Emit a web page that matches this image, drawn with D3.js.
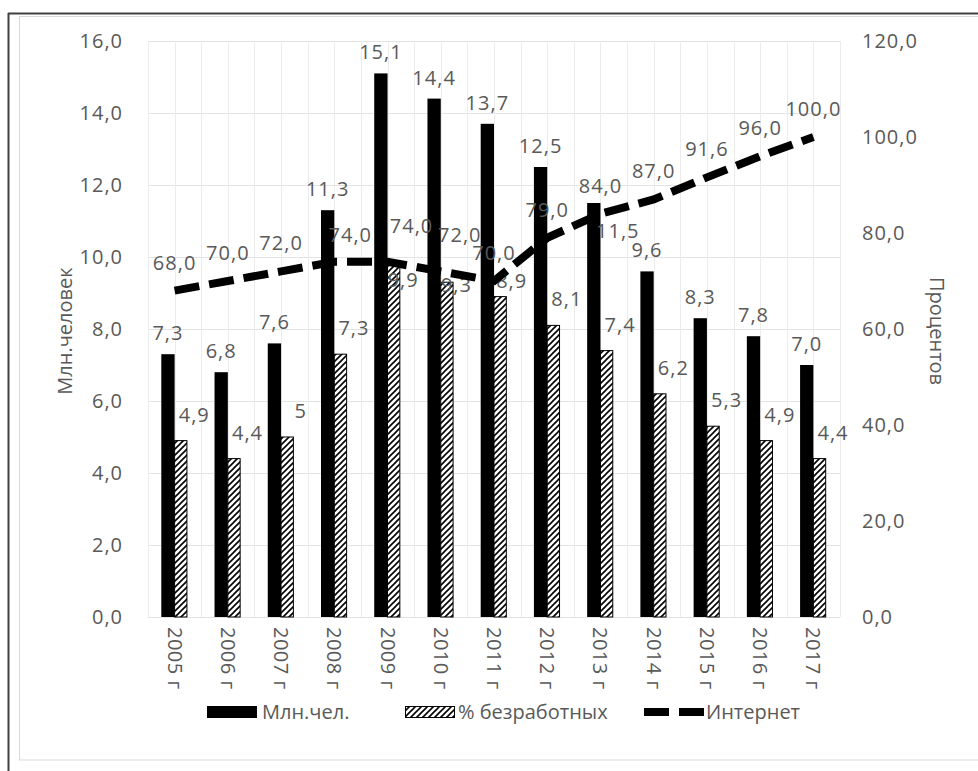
<!DOCTYPE html>
<html>
<head>
<meta charset="utf-8">
<script src="https://cdn.jsdelivr.net/npm/d3@7/dist/d3.min.js"></script>
<style>
  html, body { margin: 0; padding: 0; background: #fff; }
  svg { display: block; }
  text { font-family: "Open Sans", "Noto Sans", sans-serif; fill: #595959; }
</style>
</head>
<body>
<svg id="chart" width="978" height="771"></svg>
<script>
// ---- data ----
const categories = ["2005 г","2006 г","2007 г","2008 г","2009 г","2010 г","2011 г","2012 г","2013 г","2014 г","2015 г","2016 г","2017 г"];
const millions = [7.3, 6.8, 7.6, 11.3, 15.1, 14.4, 13.7, 12.5, 11.5, 9.6, 8.3, 7.8, 7.0];
const unemployedPct = [4.9, 4.4, 5, 7.3, 9.9, 9.3, 8.9, 8.1, 7.4, 6.2, 5.3, 4.9, 4.4];
const internet = [68.0, 70.0, 72.0, 74.0, 74.0, 72.0, 70.0, 79.0, 84.0, 87.0, 91.6, 96.0, 100.0];
const leftTicks = [0, 2, 4, 6, 8, 10, 12, 14, 16];
const rightTicks = [0, 20, 40, 60, 80, 100, 120];
const seriesNames = ["Млн.чел.", "% безработных", "Интернет"];
const axisTitles = ["Млн.человек", "Процентов"];
// unemployed label text as in source (one label shown without decimals)
const unemployedLabels = ["4,9","4,4","5","7,3","9,9","9,3","8,9","8,1","7,4","6,2","5,3","4,9","4,4"];

// ---- layout ----
const svg = d3.select("#chart");
const plot = { left: 148, right: 840, top: 41, bottom: 617 };
// manual label nudges (layout only) [dx, dy]
const lineLabelNudge = { "2008 г": [16, 1], "2009 г": [24, -8], "2010 г": [19, -8] };
const barLabelNudge = { "2013 г": [24, 49] };
const hatchLabelNudge = { "2009 г": [-4, 45], "2010 г": [-4, 29], "2011 г": [-2, 10] };
const nud = (tbl, c) => tbl[c] || [0, 0];

const fmt = v => d3.format(".1f")(v).replace(".", ",");

const x = d3.scaleBand().domain(categories).range([plot.left, plot.right]).padding(0);
const yL = d3.scaleLinear().domain([0, 16]).range([plot.bottom, plot.top]);
const yR = d3.scaleLinear().domain([0, 120]).range([plot.bottom, plot.top]);
const bw = x.bandwidth() / 4;

// frame
svg.append("rect").attr("x", 19.5).attr("y", 16.5).attr("width", 978).attr("height", 743.5)
  .attr("fill", "none").attr("stroke", "#d9d9d9").attr("stroke-width", 1);
svg.append("line").attr("x1", 8.5).attr("x2", 8.5).attr("y1", 13).attr("y2", 771).attr("stroke", "#404040").attr("stroke-width", 2);
svg.append("line").attr("x1", 8).attr("x2", 978).attr("y1", 13.5).attr("y2", 13.5).attr("stroke", "#404040").attr("stroke-width", 2);

// hatch pattern
const defs = svg.append("defs");
const pat = defs.append("pattern").attr("id", "hatch").attr("patternUnits", "userSpaceOnUse")
  .attr("width", 6).attr("height", 6);
pat.append("rect").attr("width", 6).attr("height", 6).attr("fill", "#fff");
pat.append("path").attr("d", "M-1,1 l2,-2 M0,6 l6,-6 M5,7 l2,-2")
  .attr("stroke", "#000").attr("stroke-width", 1.6);

// gridlines
const grid = svg.append("g");
grid.selectAll("line.h").data(leftTicks).enter().append("line")
  .attr("x1", plot.left).attr("x2", plot.right)
  .attr("y1", d => Math.round(yL(d)) + 0.5).attr("y2", d => Math.round(yL(d)) + 0.5)
  .attr("stroke", "#e3e3e3").attr("stroke-width", 1);
const vlines = [];
categories.forEach(c => { vlines.push(x(c)); vlines.push(x(c) + x.bandwidth() / 2); });
vlines.push(plot.right);
grid.selectAll("line.v").data(vlines).enter().append("line")
  .attr("x1", d => Math.round(d) + 0.5).attr("x2", d => Math.round(d) + 0.5)
  .attr("y1", plot.top).attr("y2", plot.bottom)
  .attr("stroke", "#ececec").attr("stroke-width", 1);

// axis tick labels
svg.append("g").selectAll("text").data(leftTicks).enter().append("text")
  .attr("x", 123).attr("y", d => yL(d)).attr("dy", "0.36em")
  .attr("text-anchor", "end").attr("font-size", 20).attr("letter-spacing", 1)
  .text(d => fmt(d));
svg.append("g").selectAll("text").data(rightTicks).enter().append("text")
  .attr("x", 862).attr("y", d => yR(d)).attr("dy", "0.36em")
  .attr("text-anchor", "start").attr("font-size", 20).attr("letter-spacing", 1)
  .text(d => fmt(d));

// category labels (rotated)
svg.append("g").selectAll("text").data(categories).enter().append("text")
  .attr("transform", d => `translate(${x(d) + x.bandwidth() / 2 - 7},627) rotate(90)`)
  .attr("text-anchor", "start").attr("font-size", 20).attr("letter-spacing", 0.5)
  .text(d => d);

// axis titles
svg.append("text").attr("transform", "translate(72,331) rotate(-90)")
  .attr("text-anchor", "middle").attr("font-size", 20).text(axisTitles[0]);
svg.append("text").attr("transform", "translate(930,331) rotate(90)")
  .attr("text-anchor", "middle").attr("font-size", 20).text(axisTitles[1]);

// bars
const bars = svg.append("g");
bars.selectAll("rect.m").data(millions).enter().append("rect")
  .attr("x", (d, i) => x(categories[i]) + bw)
  .attr("width", bw)
  .attr("y", d => yL(d)).attr("height", d => yL(0) - yL(d))
  .attr("fill", "#000");
bars.selectAll("rect.u").data(unemployedPct).enter().append("rect")
  .attr("x", (d, i) => x(categories[i]) + 2 * bw)
  .attr("width", bw - 1)
  .attr("y", d => yL(d)).attr("height", d => yL(0) - yL(d))
  .attr("fill", "url(#hatch)").attr("stroke", "#000").attr("stroke-width", 1);

// bar labels
svg.append("g").selectAll("text").data(millions).enter().append("text")
  .attr("x", (d, i) => x(categories[i]) + 1.5 * bw + nud(barLabelNudge, categories[i])[0])
  .attr("y", (d, i) => yL(d) - 14 + nud(barLabelNudge, categories[i])[1])
  .attr("text-anchor", "middle").attr("font-size", 20).attr("letter-spacing", 1)
  .text(d => fmt(d));
svg.append("g").selectAll("text").data(unemployedPct).enter().append("text")
  .attr("x", (d, i) => x(categories[i]) + 2.5 * bw + 13 + nud(hatchLabelNudge, categories[i])[0])
  .attr("y", (d, i) => yL(d) - 19 + nud(hatchLabelNudge, categories[i])[1])
  .attr("text-anchor", "middle").attr("font-size", 20).attr("letter-spacing", 1)
  .text((d, i) => unemployedLabels[i]);

// internet line
const line = d3.line().x((d, i) => x(categories[i]) + x.bandwidth() / 2).y(d => yR(d));
svg.append("path").datum(internet).attr("d", line)
  .attr("fill", "none").attr("stroke", "#000").attr("stroke-width", 8)
  .attr("stroke-dasharray", "25,10").attr("stroke-linecap", "butt");

svg.append("g").selectAll("text").data(internet).enter().append("text")
  .attr("x", (d, i) => x(categories[i]) + x.bandwidth() / 2 + nud(lineLabelNudge, categories[i])[0])
  .attr("y", (d, i) => yR(d) - 21 + nud(lineLabelNudge, categories[i])[1])
  .attr("text-anchor", "middle").attr("font-size", 20).attr("letter-spacing", 1)
  .text(d => fmt(d));

// legend
const lg = svg.append("g");
const ly = 712;
lg.append("rect").attr("x", 207).attr("y", ly - 6).attr("width", 50).attr("height", 12).attr("fill", "#000");
lg.append("text").attr("x", 262).attr("y", ly).attr("dy", "0.36em").attr("font-size", 20).text(seriesNames[0]);
lg.append("rect").attr("x", 405.5).attr("y", ly - 5.5).attr("width", 49).attr("height", 11)
  .attr("fill", "url(#hatch)").attr("stroke", "#000").attr("stroke-width", 1);
lg.append("text").attr("x", 458).attr("y", ly).attr("dy", "0.36em").attr("font-size", 20).text(seriesNames[1]);
lg.append("line").attr("x1", 644).attr("x2", 705).attr("y1", ly).attr("y2", ly)
  .attr("stroke", "#000").attr("stroke-width", 8).attr("stroke-dasharray", "25,10");
lg.append("text").attr("x", 706).attr("y", ly).attr("dy", "0.36em").attr("font-size", 20).text(seriesNames[2]);
</script>
</body>
</html>
